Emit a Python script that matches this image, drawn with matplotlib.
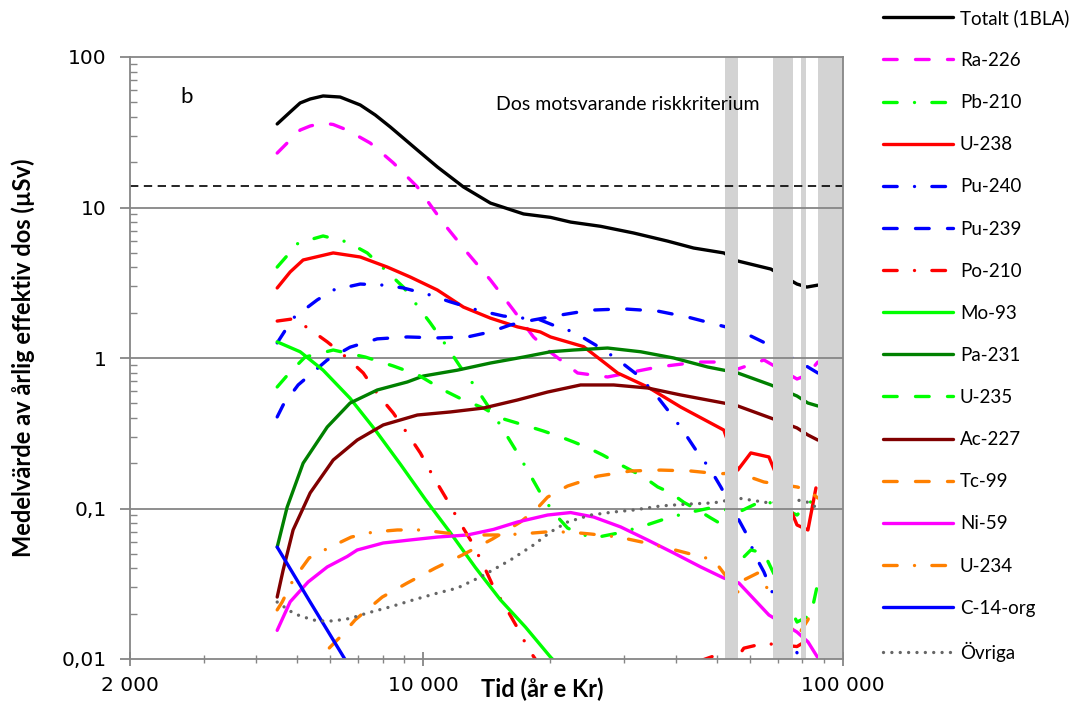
import matplotlib
matplotlib.use('Agg')
import matplotlib.pyplot as plt
from matplotlib.ticker import FixedLocator, NullFormatter

# Dose curves (x: year AD, y: µSv)
totalt_x = [4485, 4816, 5087, 5375, 5770, 6336, 7074, 7680, 8340, 9676, 10800, 12460, 14450, 17330,
            20090, 22440, 26450, 31700, 38200, 44050, 52000, 56150, 67300, 77700, 82000, 87100]
totalt_y = [35.9, 43.1, 49.5, 52.6, 55.1, 54.2, 48.0, 41.2, 34.3, 24.1, 18.6, 13.7, 10.7, 9.06,
            8.6, 8.0, 7.5, 6.77, 5.98, 5.38, 4.99, 4.41, 3.90, 3.1, 2.96, 3.05]

ra226_x = [4485, 4816, 5087, 5375, 5770, 6099, 6586, 7475, 8480, 9676, 11160, 12740, 14450, 16400,
           18300, 19770, 23310, 27480, 36190, 45080, 51700, 56150, 64800, 77700, 82000, 87100]
ra226_y = [23.0, 28.1, 32.7, 34.8, 36.4, 35.6, 32.7, 26.8, 19.8, 13.7, 7.88, 4.99, 3.30, 2.08,
           1.38, 1.13, 0.795, 0.748, 0.871, 0.94, 0.94, 0.845, 0.97, 0.725, 0.77, 0.94]

pb210_x = [4485, 5031, 5770, 6586, 7352, 8025, 8960, 9729, 10390, 11410, 12260, 13310, 14210,
           15520, 16760, 17700, 19000, 20430, 22060, 23310, 25450, 29200, 32960, 38220, 42900,
           49230, 56150, 64800, 77700, 84700]
pb210_y = [4.02, 5.80, 6.47, 5.90, 4.99, 3.96, 2.96, 2.18, 1.71, 1.18, 0.871, 0.642, 0.487,
           0.332, 0.234, 0.180, 0.127, 0.094, 0.0742, 0.0688, 0.0637, 0.0688, 0.0754, 0.0865, 0.094,
           0.102, 0.094, 0.114, 0.0905, 0.114]

u238_x = [4485, 4816, 5171, 6099, 7074, 8206, 9311, 10800, 12460, 14450, 16760, 19000, 20090, 24090,
          26890, 29040, 34230, 41060, 52000, 56150, 60300, 66600, 77700, 82500, 86200]
u238_y = [2.92, 3.73, 4.48, 4.99, 4.69, 4.02, 3.45, 2.83, 2.18, 1.84, 1.61, 1.49, 1.38, 1.19,
          0.94, 0.795, 0.642, 0.472, 0.332, 0.180, 0.234, 0.22, 0.0777, 0.072, 0.137]

pu240_x = [4485, 4894, 5585, 6099, 7074, 8025, 8960, 10390, 11600, 13460, 15520, 19000, 20880,
           22800, 25730, 28720, 32420, 35400, 38220, 41500, 44600, 48420, 51150, 56470, 58700,
           62000, 64800, 77700]
pu240_y = [1.26, 1.84, 2.43, 2.83, 3.10, 3.05, 2.92, 2.62, 2.36, 2.08, 1.90, 1.79, 1.61,
           1.49, 1.22, 1.0, 0.77, 0.594, 0.451, 0.332, 0.245, 0.180, 0.139, 0.0839, 0.0688,
           0.0476, 0.0379, 0.011]

pu239_x = [4485, 4634, 5031, 5903, 6690, 7766, 9159, 10800, 12740, 14450, 16130, 18300, 21230,
           25030, 30010, 36190, 42670, 50300, 56470, 64420, 77700, 82500, 87100]
pu239_y = [0.406, 0.487, 0.662, 0.97, 1.18, 1.34, 1.38, 1.36, 1.38, 1.49, 1.66, 1.79, 1.93,
           2.08, 2.12, 2.05, 1.87, 1.66, 1.53, 1.28, 0.97, 0.871, 0.795]

po210_x = [4485, 4894, 5315, 5903, 6586, 7193, 7808, 8480, 9210, 9836, 10570, 11290, 12120,
           12950, 13830, 14690, 15690, 16760, 17810, 19500, 40000, 44600, 48420, 52000, 56150,
           58030, 64800, 77700, 83860]
po210_y = [1.76, 1.82, 1.58, 1.28, 1.0, 0.795, 0.568, 0.431, 0.308, 0.234, 0.162, 0.119, 0.0839,
           0.0618, 0.0435, 0.0301, 0.0222, 0.0161, 0.01165, 0.008, 0.006, 0.0095, 0.0103, 0.011, 0.0103,
           0.0118, 0.0127, 0.0121, 0.0138]

mo93_x = [4485, 5087, 5770, 6690, 7683, 8815, 10110, 11600, 13310, 15270, 17510, 20090, 21500]
mo93_y = [1.28, 1.10, 0.83, 0.54, 0.332, 0.197, 0.115, 0.069, 0.0405, 0.0247, 0.0163, 0.0103, 0.0085]

pa231_x = [4485, 4736, 5171, 5903, 6690, 7766, 9159, 10000, 12050, 14450, 17330, 20090, 22800,
           27480, 32960, 39510, 47630, 52000, 56150, 67300, 77700, 82500, 87100]
pa231_y = [0.0554, 0.102, 0.2, 0.348, 0.502, 0.613, 0.693, 0.759, 0.83, 0.926, 1.015, 1.10, 1.13,
           1.165, 1.10, 1.0, 0.871, 0.83, 0.795, 0.662, 0.559, 0.502, 0.48]

u235_x = [4485, 4816, 5228, 6099, 7271, 8480, 9729, 11160, 12460, 13910, 15270, 16400, 18000,
          19340, 21230, 22800, 24770, 26740, 29040, 31190, 33500, 36190, 38860, 41730, 45080,
          48420, 51700, 57090, 60300, 64800, 77700, 83860, 87100]
u235_y = [0.642, 0.807, 1.015, 1.13, 1.015, 0.885, 0.77, 0.613, 0.526, 0.465, 0.399, 0.376, 0.348,
          0.327, 0.299, 0.277, 0.252, 0.227, 0.2, 0.18, 0.162, 0.139, 0.127, 0.110, 0.0977,
          0.0865, 0.0777, 0.0455, 0.053, 0.0506, 0.0176, 0.0196, 0.032]

ac227_x = [4485, 4634, 4894, 5375, 6099, 6957, 8025, 9676, 11600, 13910, 16760, 19770, 23700,
           28410, 34230, 41060, 52000, 56150, 67300, 77700, 82500, 87100]
ac227_y = [0.0258, 0.039, 0.072, 0.127, 0.21, 0.285, 0.359, 0.418, 0.438, 0.465, 0.526, 0.594, 0.662,
           0.662, 0.632, 0.568, 0.502, 0.48, 0.399, 0.343, 0.308, 0.285]

tc99_x = [4485, 5087, 5585, 5998, 6336, 6881, 7982, 9159, 10680, 12390, 14610, 17040, 18710,
          19770, 22060, 26020, 31190, 36790, 43380, 50580, 56150, 64800, 77700, 82500, 87100]
tc99_y = [0.007, 0.0078, 0.0098, 0.012, 0.014, 0.0182, 0.0258, 0.032, 0.0402, 0.0491, 0.0627, 0.0813, 0.1008,
          0.119, 0.141, 0.164, 0.1775, 0.180, 0.1775, 0.170, 0.1725, 0.15, 0.139, 0.133, 0.1174]

ni59_x = [4485, 4816, 5315, 5903, 6586, 6957, 8025, 9311, 10800, 12740, 14690, 16760, 19770, 22440,
          25450, 29530, 34230, 39510, 45800, 52000, 56470, 66600, 77700, 82500, 87100]
ni59_y = [0.0155, 0.024, 0.0325, 0.0409, 0.048, 0.053, 0.059, 0.0618, 0.0646, 0.0667, 0.0726, 0.0813, 0.0905, 0.094,
          0.0878, 0.0754, 0.0618, 0.0506, 0.0409, 0.0345, 0.032, 0.0196, 0.0151, 0.013, 0.0102]

u234_x = [4485, 4609, 4894, 5343, 5935, 6734, 7598, 8670, 9945, 11290, 12950, 15270, 17040,
          19550, 22180, 25030, 29200, 33140, 38220, 43380, 49220, 56470, 58030, 62680, 77700,
          82500, 84700]
u234_y = [0.0212, 0.0239, 0.0335, 0.0469, 0.0546, 0.0646, 0.0698, 0.072, 0.072, 0.0688, 0.0667, 0.0667, 0.0677,
          0.0698, 0.0698, 0.0677, 0.0646, 0.0599, 0.0546, 0.0498, 0.0455, 0.0274, 0.0335, 0.0373, 0.014,
          0.0182, 0.0236]

c14_x = [4485, 5375, 6513, 7000]
c14_y = [0.0554, 0.0239, 0.0099, 0.0075]

ovriga_x = [4485, 4816, 5087, 5585, 6099, 6690, 7352, 8340, 9464, 10800, 12050, 13680, 16130, 18300,
            20090, 22060, 25030, 28410, 31710, 36790, 42670, 49220, 56470, 66600, 77700, 82500, 86200]
ovriga_y = [0.0239, 0.0208, 0.0193, 0.0179, 0.0179, 0.0186, 0.0202, 0.0222, 0.0247, 0.0274, 0.0296, 0.0351, 0.0455, 0.0572,
            0.0698, 0.0813, 0.0905, 0.0948, 0.0977, 0.104, 0.107, 0.109, 0.117, 0.109, 0.114, 0.110, 0.102]

criterion = 14
# periods without results (grey bands)
band_start = [52300, 68000, 79400, 87200]
band_end = [56200, 76000, 81600, 100000]

x_ticks = [2000, 10000, 100000]
x_labels = ['2 000', '10 000', '100 000']
y_ticks = [0.01, 0.1, 1, 10, 100]
y_labels = ['0,01', '0,1', '1', '10', '100']

SOLID = '-'
DASH = (0, (4.1, 5.5))
DASHDOT = (0, (4.1, 5.2, 0.01, 5.2))
DOT = (0, (0.01, 2.5))

series = [
    ('Totalt (1BLA)', totalt_x, totalt_y, '#000000', SOLID),
    ('Ra-226', ra226_x, ra226_y, '#FF00FF', DASH),
    ('Pb-210', pb210_x, pb210_y, '#00FF00', DASHDOT),
    ('U-238', u238_x, u238_y, '#FF0000', SOLID),
    ('Pu-240', pu240_x, pu240_y, '#0000FF', DASHDOT),
    ('Pu-239', pu239_x, pu239_y, '#0000FF', DASH),
    ('Po-210', po210_x, po210_y, '#FF0000', DASHDOT),
    ('Mo-93', mo93_x, mo93_y, '#00FF00', SOLID),
    ('Pa-231', pa231_x, pa231_y, '#008000', SOLID),
    ('U-235', u235_x, u235_y, '#00FF00', DASH),
    ('Ac-227', ac227_x, ac227_y, '#800000', SOLID),
    ('Tc-99', tc99_x, tc99_y, '#FF8000', DASH),
    ('Ni-59', ni59_x, ni59_y, '#FF00FF', SOLID),
    ('U-234', u234_x, u234_y, '#FF8000', DASHDOT),
    ('C-14-org', c14_x, c14_y, '#0000FF', SOLID),
    ('Övriga', ovriga_x, ovriga_y, '#666666', DOT),
]

GREY = '#868686'
fig = plt.figure(figsize=(10.73, 7.05), dpi=100)
ax = fig.add_axes([130 / 1073, 1 - 659 / 705, 713 / 1073, 602 / 705])
ax.set_xscale('log')
ax.set_yscale('log')

handles = []
for name, xs, ys, color, ls in series:
    line, = ax.plot(xs, ys, color=color, lw=2.4, ls=ls, label=name,
                    solid_capstyle='round', dash_capstyle='round',
                    solid_joinstyle='round', zorder=2)
    handles.append(line)

for x0, x1 in zip(band_start, band_end):
    ax.axvspan(x0, x1, color='#D3D3D3', lw=0, zorder=3)
    ax.hlines([0.1, 1, 10], x0, x1, color=GREY, lw=1.3, zorder=3.5)

for yv in [0.1, 1, 10]:
    ax.axhline(yv, color=GREY, lw=1.3, zorder=1)
ax.axhline(criterion, color='black', lw=1.2, ls=(0, (5, 3.3)), zorder=4)

ax.set_xlim(2000, 100000)
ax.set_ylim(0.01, 100)

for sp in ax.spines.values():
    sp.set_color(GREY)
    sp.set_linewidth(1.3)
    sp.set_zorder(5)

ax.xaxis.set_major_locator(FixedLocator(x_ticks))
ax.set_xticklabels(x_labels)
ax.xaxis.set_minor_locator(FixedLocator([3000, 4000, 5000, 6000, 7000, 8000, 9000,
                                         20000, 30000, 40000, 50000, 60000, 70000, 80000, 90000]))
ax.xaxis.set_minor_formatter(NullFormatter())
ax.yaxis.set_major_locator(FixedLocator(y_ticks))
ax.set_yticklabels(y_labels)
ax.yaxis.set_minor_locator(FixedLocator([m * 10.0 ** e for e in range(-2, 2) for m in range(2, 10)]))
ax.yaxis.set_minor_formatter(NullFormatter())

ax.tick_params(axis='x', which='major', direction='inout', length=10, width=1.3, color=GREY, pad=7)
ax.tick_params(axis='x', which='minor', direction='inout', length=6, width=1.0, color=GREY)
ax.tick_params(axis='y', which='major', direction='out', length=7, width=1.3, color=GREY, pad=10)
ax.tick_params(axis='y', which='minor', direction='in', length=5, width=1.0, color=GREY)
for lab in ax.get_xticklabels() + ax.get_yticklabels():
    lab.set_fontfamily('DejaVu Sans')
    lab.set_fontsize(14.5)

ax.set_ylabel('Medelvärde av årlig effektiv dos (µSv)', family='Lato', fontweight='bold', fontsize=17)
ax.yaxis.set_label_coords(-0.133, 0.5)
ax.set_xlabel('Tid (år e Kr)', family='Lato', fontweight='bold', fontsize=17)
ax.xaxis.set_label_coords(0.578, -0.031)

ax.text(0.07, 0.95, 'b', transform=ax.transAxes, family='Lato', fontsize=16, va='top')
ax.text(0.513, 0.912, 'Dos motsvarande riskkriterium', transform=ax.transAxes,
        family='Lato', fontsize=14, va='baseline')

fig.legend(handles, [s[0] for s in series], loc='upper left', bbox_to_anchor=(883 / 1073, 1 - 9 / 705),
           frameon=False, prop={'family': 'Lato', 'size': 13.5}, handlelength=3.73,
           handletextpad=0.37, labelspacing=1.34, borderpad=0, borderaxespad=0)

fig.savefig('out.png', dpi=100)
